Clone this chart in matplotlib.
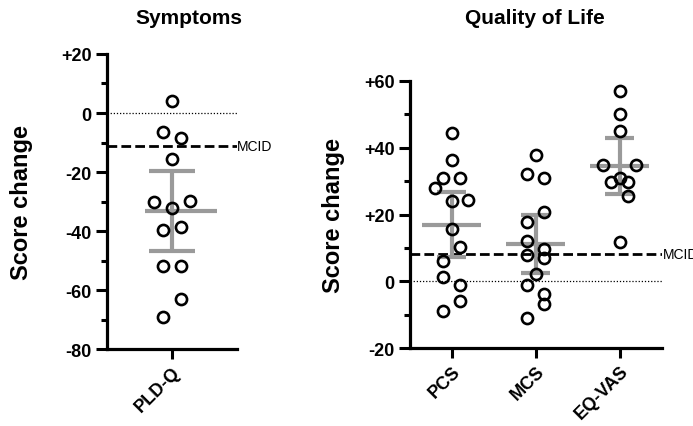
import numpy as np
import matplotlib
matplotlib.use('Agg')
import matplotlib.pyplot as plt
from matplotlib.ticker import MultipleLocator, FuncFormatter

plt.rcParams['font.family'] = ['Liberation Sans', 'DejaVu Sans']

# Symptoms panel (PLD-Q)
sym_labels = ['PLD-Q']
pldq = [4.2, -6.3, -8.4, -15.5, -30.0, -29.7, -32.1, -39.8, -38.5, -51.8, -52.0, -63.2, -69.0]
pldq_col = [0, -1, 1, 0, -2, 2, 0, -1, 1, -1, 1, 1, -1]
sym_mean = [-33.3]
sym_lo = [-46.7]
sym_hi = [-19.6]
mcid_sym = -11.3

# Quality of life panel
qol_labels = ['PCS', 'MCS', 'EQ-VAS']
pcs = [44.3, 36.3, 31.1, 30.9, 28.1, 24.1, 24.4, 15.6, 10.4, 6.2, 1.2, -1.0, -5.8, -8.8]
pcs_col = [0, 0, -1, 1, -2, 0, 2, 0, 1, -1, -1, 1, 1, -1]
mcs = [37.9, 32.2, 31.1, 20.8, 17.8, 12.1, 9.8, 7.8, 7.0, 2.2, -1.0, -3.8, -6.6, -11.0]
mcs_col = [0, -1, 1, 1, -1, -1, 1, -1, 1, 0, -1, 1, 1, -1]
eqvas = [56.9, 50.0, 44.9, 34.9, 34.9, 30.9, 29.7, 29.9, 25.7, 11.8]
eqvas_col = [0, 0, 0, -2, 2, 0, -1, 1, 1, 0]
qol_mean = [17.0, 11.2, 34.7]
qol_lo = [7.2, 2.5, 26.3]
qol_hi = [26.9, 20.0, 42.9]
mcid_qol = 8.3

grey = '#9a9a9a'


def fmt(v, pos):
    if abs(v) < 1e-9:
        return '0'
    return '%+d' % int(round(v))


def style_axis(ax, ylim, major):
    for s in ['top', 'right']:
        ax.spines[s].set_visible(False)
    for s in ['left', 'bottom']:
        ax.spines[s].set_linewidth(2.3)
    ax.set_ylim(*ylim)
    ax.yaxis.set_major_locator(MultipleLocator(major))
    ax.yaxis.set_minor_locator(MultipleLocator(major / 2))
    ax.yaxis.set_major_formatter(FuncFormatter(fmt))
    ax.tick_params(axis='y', which='major', length=8, width=2.2, labelsize=13, pad=3)
    ax.tick_params(axis='y', which='minor', length=4, width=2.2)
    ax.tick_params(axis='x', which='major', length=7, width=2.2, labelsize=13, pad=3)
    for lab in ax.get_yticklabels():
        lab.set_fontweight('bold')
    ax.set_ylabel('Score change', fontsize=17, fontweight='bold', va='center')


def draw_group(ax, xc, values, cols, step):
    xs = [xc + c * step for c in cols]
    ax.plot(xs, values, 'o', ms=8, mfc='none', mec='black', mew=1.9, zorder=5, clip_on=False)


fig = plt.figure(figsize=(6.93, 4.27), dpi=100)

# left panel
ax1 = fig.add_axes([0.1544, 0.1803, 0.1876, 0.6909])
x1 = np.arange(len(sym_labels))
ax1.set_xlim(-0.5, 0.5)
ax1.axhline(0, color='black', lw=0.9, ls=(0, (1, 1.5)), zorder=1)
ax1.axhline(mcid_sym, color='black', lw=2, ls=(0, (3.5, 1.5)), zorder=2)
ax1.text(0.5, mcid_sym, 'MCID', fontsize=10, va='center', ha='left', clip_on=False)
ax1.vlines(x1, sym_lo, sym_hi, color=grey, lw=3, zorder=3)
ax1.hlines(sym_lo + sym_hi, np.r_[x1, x1] - 0.177, np.r_[x1, x1] + 0.177, color=grey, lw=3, zorder=3)
ax1.hlines(sym_mean, x1 - 0.208, x1 + 0.346, color=grey, lw=3, zorder=3)
draw_group(ax1, x1[0], pldq, pldq_col, 0.069)
style_axis(ax1, (-80, 20), 20)
ax1.set_xticks(x1)
ax1.set_xticklabels(sym_labels, rotation=45, ha='right', rotation_mode='anchor', fontweight='bold')
ax1.yaxis.set_label_coords(-0.656, 0.5)

# right panel
ax2 = fig.add_axes([0.5912, 0.182, 0.3636, 0.626])
x2 = np.arange(len(qol_labels))
ax2.set_xlim(-0.5, 2.5)
ax2.axhline(0, color='black', lw=0.9, ls=(0, (1, 1.5)), zorder=1)
ax2.axhline(mcid_qol, color='black', lw=2, ls=(0, (3.5, 1.5)), zorder=2)
ax2.text(2.51, mcid_qol, 'MCID', fontsize=10, va='center', ha='left', clip_on=False)
ax2.vlines(x2, qol_lo, qol_hi, color=grey, lw=3, zorder=3)
ax2.hlines(qol_lo, x2 - 0.17, x2 + 0.17, color=grey, lw=3, zorder=3)
ax2.hlines(qol_hi, x2 - 0.17, x2 + 0.17, color=grey, lw=3, zorder=3)
ax2.hlines(qol_mean, x2 - 0.35, x2 + 0.35, color=grey, lw=3, zorder=3)
draw_group(ax2, x2[0], pcs, pcs_col, 0.099)
draw_group(ax2, x2[1], mcs, mcs_col, 0.099)
draw_group(ax2, x2[2], eqvas, eqvas_col, 0.099)
style_axis(ax2, (-20, 60), 20)
ax2.set_xticks(x2)
ax2.set_xticklabels(qol_labels, rotation=45, ha='right', rotation_mode='anchor', fontweight='bold')
ax2.yaxis.set_label_coords(-0.303, 0.5)

fig.text(189 / 693, 1 - 19 / 427, 'Symptoms', fontsize=15, fontweight='bold', ha='center', va='center')
fig.text(535 / 693, 1 - 19 / 427, 'Quality of Life', fontsize=15, fontweight='bold', ha='center', va='center')

plt.savefig('out.png', dpi=100)
